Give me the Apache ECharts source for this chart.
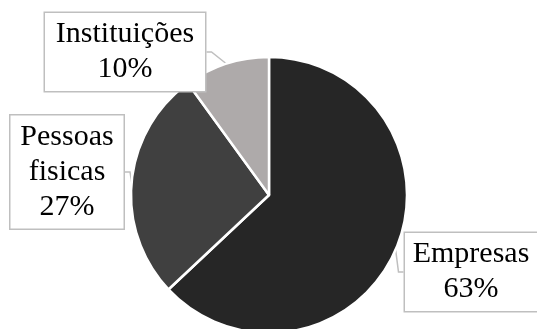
<!DOCTYPE html>
<html>
<head>
<meta charset="utf-8">
<script src="https://cdn.jsdelivr.net/npm/echarts@6/dist/echarts.min.js"></script>
<style>
  html, body { margin: 0; padding: 0; background: #fff; }
  #chart { width: 537px; height: 329px; }
</style>
</head>
<body>
<div id="chart"></div>
<script>
// dados
const categories = ['Empresas', 'Pessoas fisicas', 'Instituições']
const values = [63, 27, 10]
const colors = ['#262626', '#404040', '#aeaaaa']

// caixas dos rótulos (centro x, centro y, largura do texto, padding horizontal)
const labelBoxes = [
  { x: 471, y: 272, width: 118, pad: 7 },
  { x: 67, y: 172, width: 95, pad: 9 },
  { x: 125, y: 52, width: 142, pad: 9 }
]

const chart = echarts.init(document.getElementById('chart'))

const option = {
  animation: false,
  series: [
    {
      type: 'pie',
      center: [269, 195],
      radius: 138,
      startAngle: 90,
      clockwise: true,
      itemStyle: { borderColor: '#fff', borderWidth: 2.5 },
      label: {
        show: true,
        position: 'outside',
        // o Excel quebra "Pessoas fisicas" em duas linhas
        formatter: p => (p.dataIndex === 1 ? p.name.replace(' ', '\n') : p.name) + '\n' + p.value + '%',
        fontFamily: '"Liberation Serif", "Times New Roman", serif',
        fontSize: 30,
        lineHeight: 35,
        color: '#000',
        align: 'center',
        backgroundColor: '#fff',
        borderColor: '#bfbfbf',
        borderWidth: 1.5,
        overflow: 'none'
      },
      labelLine: {
        show: true,
        length: 5,
        length2: 5,
        lineStyle: { color: '#bfbfbf', width: 1.5 }
      },
      labelLayout: params => {
        const b = labelBoxes[params.dataIndex]
        return { x: b.x, y: b.y, align: 'center', verticalAlign: 'middle' }
      },
      data: categories.map((name, i) => ({
        name,
        value: values[i],
        itemStyle: { color: colors[i] },
        label: { width: labelBoxes[i].width, padding: [4, labelBoxes[i].pad] }
      }))
    }
  ]
}

chart.setOption(option)
</script>
</body>
</html>
